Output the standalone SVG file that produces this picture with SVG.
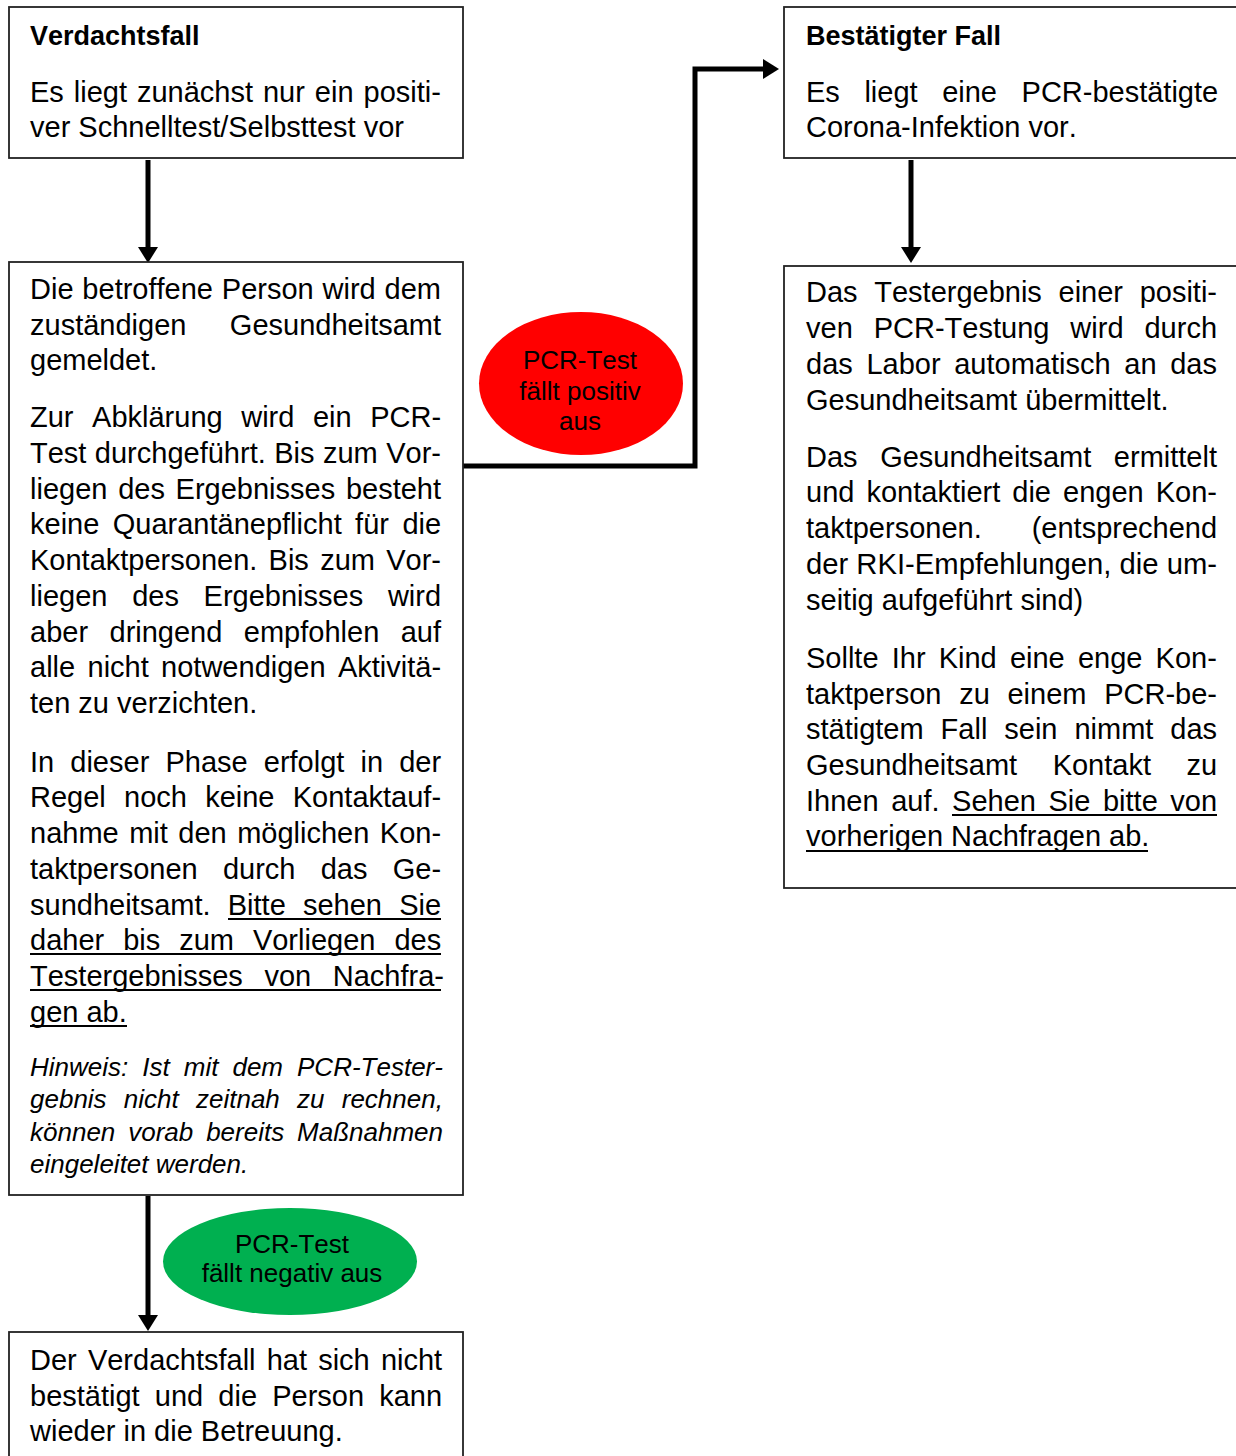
<svg xmlns="http://www.w3.org/2000/svg" width="1236" height="1456" viewBox="0 0 1236 1456">
<style>
.box{fill:#fff;stroke:#222;stroke-width:1.8}
text{font-family:"Liberation Sans",Arial,sans-serif;fill:#000;font-kerning:none}
.t{font-size:29px}
.h{font-size:27px;font-weight:bold}
.i{font-size:26px;font-style:italic}
.e{font-size:26px;text-anchor:middle}
.u{stroke:#000;stroke-width:2}
.c{fill:none;stroke:#000;stroke-width:5}
</style>
<defs>
<marker id="ah" markerUnits="userSpaceOnUse" markerWidth="16" markerHeight="20" viewBox="0 -10 16 20" refX="0" refY="0" orient="auto">
<path d="M0,-10 L16,0 L0,10 z" fill="#000"/>
</marker>
</defs>
<rect width="1236" height="1456" fill="#fff"/>

<g id="connectors">
<path class="c" d="M148,160 V247" marker-end="url(#ah)"/>
<path class="c" d="M911,160 V247" marker-end="url(#ah)"/>
<path class="c" d="M148,1196 V1315" marker-end="url(#ah)"/>
<path class="c" d="M463,466 H695 V69 H763" marker-end="url(#ah)"/>
</g>

<g id="verdachtsfall">
<rect class="box" x="9" y="7" width="454" height="151"/>
<text class="h" x="30" y="45">Verdachtsfall</text>
<text class="t" x="30" y="102" word-spacing="1.9">Es liegt zunächst nur ein positi-</text>
<text class="t" x="30" y="137">ver Schnelltest/Selbsttest vor</text>
</g>

<g id="meldung">
<rect class="box" x="9" y="262" width="454" height="933"/>
<text class="t" x="30" y="299" word-spacing="0.8">Die betroffene Person wird dem</text>
<text class="t" x="30" y="335" word-spacing="35.4">zuständigen Gesundheitsamt</text>
<text class="t" x="30" y="370">gemeldet.</text>
<text class="t" x="30" y="427" word-spacing="10.5">Zur Abklärung wird ein PCR-</text>
<text class="t" x="30" y="463" word-spacing="0.4">Test durchgeführt. Bis zum Vor-</text>
<text class="t" x="30" y="499" word-spacing="2.67">liegen des Ergebnisses besteht</text>
<text class="t" x="30" y="534" word-spacing="5.37">keine Quarantänepflicht für die</text>
<text class="t" x="30" y="570" word-spacing="3.2">Kontaktpersonen. Bis zum Vor-</text>
<text class="t" x="30" y="606" word-spacing="16.67">liegen des Ergebnisses wird</text>
<text class="t" x="30" y="642" word-spacing="13.4">aber dringend empfohlen auf</text>
<text class="t" x="30" y="677" word-spacing="4.3">alle nicht notwendigen Aktivitä-</text>
<text class="t" x="30" y="713">ten zu verzichten.</text>
<text class="t" x="30" y="772" word-spacing="8.06">In dieser Phase erfolgt in der</text>
<text class="t" x="30" y="807" word-spacing="10.2">Regel noch keine Kontaktauf-</text>
<text class="t" x="30" y="843" word-spacing="2.42">nahme mit den möglichen Kon-</text>
<text class="t" x="30" y="879" word-spacing="17.2">taktpersonen durch das Ge-</text>
<text class="t" x="30" y="915" word-spacing="9.13">sundheitsamt. Bitte sehen Sie</text>
<text class="t" x="30" y="950" word-spacing="10.9">daher bis zum Vorliegen des</text>
<text class="t" x="30" y="986" word-spacing="13.55">Testergebnisses von Nachfra-</text>
<text class="t" x="30" y="1022">gen ab.</text>
<line class="u" x1="228" y1="919" x2="441" y2="919"/>
<line class="u" x1="30" y1="954" x2="441" y2="954"/>
<line class="u" x1="30" y1="990" x2="441" y2="990"/>
<line class="u" x1="30" y1="1026" x2="127" y2="1026"/>
<text class="i" x="30" y="1076" word-spacing="6.8">Hinweis: Ist mit dem PCR-Tester-</text>
<text class="i" x="30" y="1108" word-spacing="10">gebnis nicht zeitnah zu rechnen,</text>
<text class="i" x="30" y="1141" word-spacing="5.67">können vorab bereits Maßnahmen</text>
<text class="i" x="30" y="1173">eingeleitet werden.</text>
</g>

<g id="negativ-ergebnis">
<rect class="box" x="9" y="1332" width="454" height="140"/>
<text class="t" x="30" y="1370" word-spacing="3.1">Der Verdachtsfall hat sich nicht</text>
<text class="t" x="30" y="1406" word-spacing="7.1">bestätigt und die Person kann</text>
<text class="t" x="30" y="1441">wieder in die Betreuung.</text>
</g>

<g id="bestaetigter-fall">
<rect class="box" x="784" y="7" width="470" height="151"/>
<text class="h" x="806" y="45">Bestätigter Fall</text>
<text class="t" x="806" y="102" word-spacing="16.5">Es liegt eine PCR-bestätigte</text>
<text class="t" x="806" y="137">Corona-Infektion vor.</text>
</g>

<g id="gesundheitsamt">
<rect class="box" x="784" y="266" width="470" height="622"/>
<text class="t" x="806" y="302" word-spacing="8.6">Das Testergebnis einer positi-</text>
<text class="t" x="806" y="338" word-spacing="12.9">ven PCR-Testung wird durch</text>
<text class="t" x="806" y="374" word-spacing="5.6">das Labor automatisch an das</text>
<text class="t" x="806" y="410">Gesundheitsamt übermittelt.</text>
<text class="t" x="806" y="467" word-spacing="14.5">Das Gesundheitsamt ermittelt</text>
<text class="t" x="806" y="502" word-spacing="4">und kontaktiert die engen Kon-</text>
<text class="t" x="806" y="538" word-spacing="41.9">taktpersonen. (entsprechend</text>
<text class="t" x="806" y="574" textLength="411" lengthAdjust="spacingAndGlyphs">der RKI-Empfehlungen, die um-</text>
<text class="t" x="806" y="610">seitig aufgeführt sind)</text>
<text class="t" x="806" y="668" word-spacing="5.1">Sollte Ihr Kind eine enge Kon-</text>
<text class="t" x="806" y="704" word-spacing="9.67">taktperson zu einem PCR-be-</text>
<text class="t" x="806" y="739" word-spacing="8.9">stätigtem Fall sein nimmt das</text>
<text class="t" x="806" y="775" word-spacing="27.4">Gesundheitsamt Kontakt zu</text>
<text class="t" x="806" y="811" word-spacing="4.5">Ihnen auf. Sehen Sie bitte von</text>
<text class="t" x="806" y="846">vorherigen Nachfragen ab.</text>
<line class="u" x1="952" y1="815" x2="1217" y2="815"/>
<line class="u" x1="806" y1="851" x2="1148" y2="851"/>
</g>

<g id="pcr-positiv">
<ellipse cx="581" cy="383.5" rx="102" ry="71.5" fill="#ff0000"/>
<text class="e" x="580" y="369">PCR-Test</text>
<text class="e" x="580" y="400">fällt positiv</text>
<text class="e" x="580" y="430">aus</text>
</g>

<g id="pcr-negativ">
<ellipse cx="290" cy="1261.5" rx="127" ry="53.5" fill="#00b050"/>
<text class="e" x="292" y="1253">PCR-Test</text>
<text class="e" x="292" y="1282">fällt negativ aus</text>
</g>
</svg>
